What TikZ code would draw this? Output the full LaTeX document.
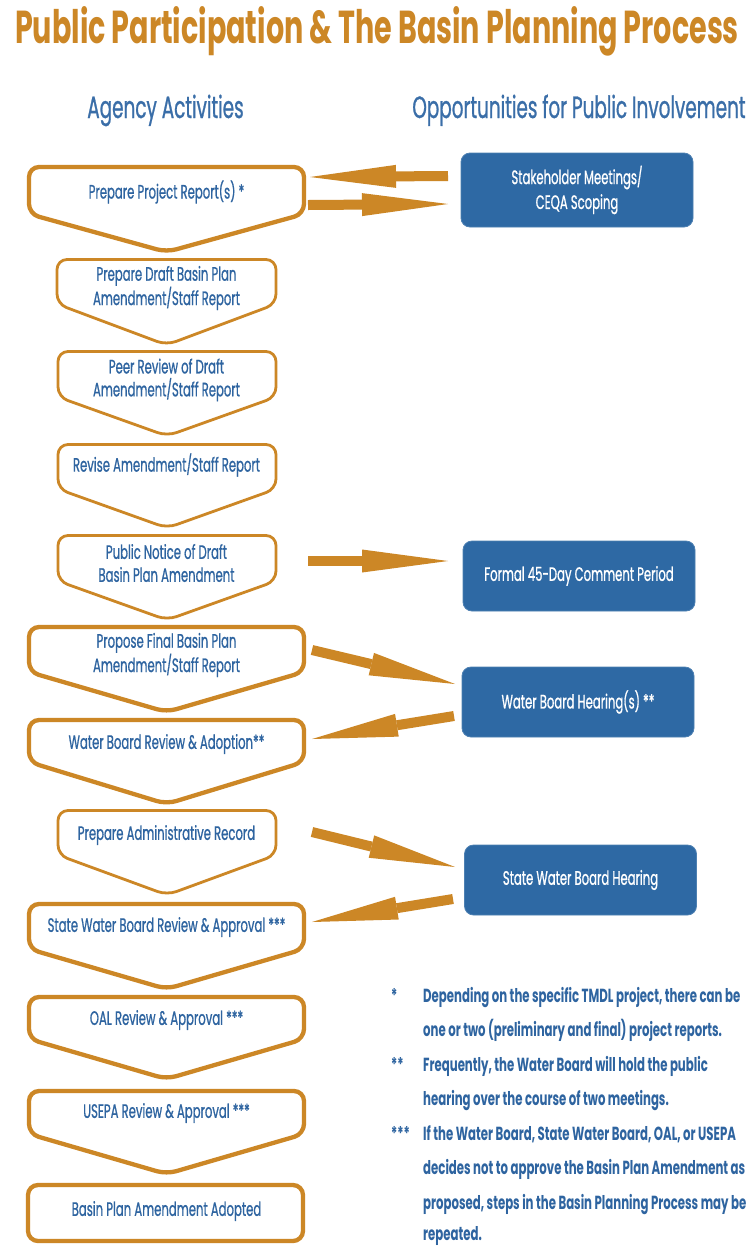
\documentclass[tikz,border=0pt]{standalone}
\usepackage{fontspec}
\setmainfont[FakeStretch=0.62]{Poppins}
\newfontfamily\medfont[FakeStretch=0.6,FakeBold=0.8]{Poppins}
\usetikzlibrary{arrows.meta}
\definecolor{org}{RGB}{204,135,38}
\definecolor{blu}{RGB}{46,100,160}
\definecolor{hblu}{RGB}{58,110,168}
\definecolor{bfill}{RGB}{46,105,164}
\begin{document}
\begin{tikzpicture}[x=1bp,y=-1bp,
  steptext/.style={text=blu, font=\medfont\fontsize{19.5}{23}\selectfont, align=center, inner sep=0pt},
  thinbox/.style={draw=org, line width=2.8bp, rounded corners=10bp},
  thickbox/.style={draw=org, line width=4.3bp, rounded corners=10bp},
  pubbox/.style={fill=bfill, draw=bfill!85!white, line width=0.8bp, rounded corners=9bp, text=white,
    font=\medfont\fontsize{19.5}{25}\selectfont, align=center, minimum width=232bp, minimum height=70bp, inner sep=0pt},
  bigarrow/.style={draw=org, line width=10bp, -{Triangle[length=86bp,width=23bp,line width=0pt]}},
  fntext/.style={text=blu, font=\bfseries\fontsize{19}{20}\selectfont, anchor=base west, inner sep=0pt},
  heading/.style={text=hblu, font=\medfont\fontsize{30.8}{32}\selectfont, inner sep=0pt}
]
\useasboundingbox (0,0) rectangle (754,1246);
\fill[white] (0,0) rectangle (754,1246);

% title and headings
\node[text=org, font=\bfseries\fontsize{46.3}{48}\selectfont, inner sep=0pt, anchor=base] (title) at (377,43) {Public Participation \& The Basin Planning Process};
\node[heading, anchor=base] (hleft) at (165.5,118) {Agency Activities};
\node[heading, anchor=base] (hright) at (579,118) {Opportunities for Public Involvement};

% left column outlines
\draw[thickbox] (29,214) -- (29,167) -- (304,167) -- (304,214) -- (166.5,252) -- cycle;
\draw[thinbox] (57,304) -- (57,259.5) -- (276,259.5) -- (276,304) -- (166.5,345) -- cycle;
\draw[thinbox] (58,397) -- (58,351.5) -- (276,351.5) -- (276,397) -- (167,436) -- cycle;
\draw[thinbox] (58,489) -- (58,444.5) -- (276,444.5) -- (276,489) -- (167,528) -- cycle;
\draw[thinbox] (58,581) -- (58,535.5) -- (276,535.5) -- (276,581) -- (167,620) -- cycle;
\draw[thickbox] (29,672) -- (29,627) -- (304,627) -- (304,672) -- (166.5,712) -- cycle;
\draw[thickbox] (29,762) -- (29,720) -- (304,720) -- (304,762) -- (166.5,804) -- cycle;
\draw[thinbox] (58,855) -- (58,810.5) -- (276,810.5) -- (276,855) -- (167,895) -- cycle;
\draw[thickbox] (29,949) -- (29,904) -- (304,904) -- (304,949) -- (166.5,989) -- cycle;
\draw[thickbox] (29,1039) -- (29,997) -- (304,997) -- (304,1039) -- (166.5,1079) -- cycle;
\draw[thickbox] (29,1134) -- (29,1091) -- (304,1091) -- (304,1134) -- (166.5,1174) -- cycle;
\draw[thickbox] (28,1185) rectangle (303,1241);

% left column texts
\node[steptext] (s1) at (166.5,192) {Prepare Project Report(s) *};
\node[steptext] (s2) at (166.5,288) {Prepare Draft Basin Plan\\Amendment/Staff Report};
\node[steptext] (s3) at (166.5,380) {Peer Review of Draft\\Amendment/Staff Report};
\node[steptext] (s4) at (166.5,465) {Revise Amendment/Staff Report};
\node[steptext] (s5) at (166.5,563) {Public Notice of Draft\\Basin Plan Amendment};
\node[steptext] (s6) at (166.5,655) {Propose Final Basin Plan\\Amendment/Staff Report};
\node[steptext] (s7) at (166.5,744) {Water Board Review \& Adoption**};
\node[steptext] (s8) at (166.5,835) {Prepare Administrative Record};
\node[steptext] (s9) at (166.5,927) {State Water Board Review \& Approval ***};
\node[steptext] (s10) at (166.5,1020) {OAL Review \& Approval ***};
\node[steptext] (s11) at (166.5,1113) {USEPA Review \& Approval ***};
\node[steptext] (s12) at (166.5,1211) {Basin Plan Amendment Adopted};

% right column boxes
\node[pubbox, minimum height=74bp] (b1) at (577,190) {Stakeholder Meetings/\\CEQA Scoping};
\node[pubbox] (b2) at (579,576) {Formal 45-Day Comment Period};
\node[pubbox] (b3) at (578,702) {Water Board Hearing(s) **};
\node[pubbox] (b4) at (580.5,880) {State Water Board Hearing};

% arrow end points on the left shapes
\coordinate (e1in) at (310,177);
\coordinate (e1out) at (308,205);
\coordinate (e5out) at (308,561);
\coordinate (e6out) at (312,650);
\coordinate (e7in) at (312,739);
\coordinate (e8out) at (312,832);
\coordinate (e9in) at (312,922);
\coordinate (b1in) at (448,204);
\coordinate (b1out) at (448,176);
\coordinate (b2in) at (448,561);
\coordinate (b3in) at (455,684);
\coordinate (b3out) at (454,716);
\coordinate (b4in) at (455,867);
\coordinate (b4out) at (453,899);

\draw[bigarrow] (b1out) -- (e1in);
\draw[bigarrow] (e1out) -- (b1in);
\draw[bigarrow] (e5out) -- (b2in);
\draw[bigarrow] (e6out) -- (b3in);
\draw[bigarrow] (b3out) -- (e7in);
\draw[bigarrow] (e8out) -- (b4in);
\draw[bigarrow] (b4out) -- (e9in);

% footnotes
\node[fntext] (m1) at (391,1002) {*};
\node[fntext] (f1a) at (423,1002) {Depending on the specific TMDL project, there can be};
\node[fntext] (f1b) at (423,1036.5) {one or two (preliminary and final) project reports.};
\node[fntext] (m2) at (391,1071) {**};
\node[fntext] (f2a) at (423,1071) {Frequently, the Water Board will hold the public};
\node[fntext] (f2b) at (423,1105.5) {hearing over the course of two meetings.};
\node[fntext] (m3) at (391,1140) {***};
\node[fntext] (f3a) at (423,1140) {If the Water Board, State Water Board, OAL, or USEPA};
\node[fntext] (f3b) at (423,1174.5) {decides not to approve the Basin Plan Amendment as};
\node[fntext] (f3c) at (423,1209) {proposed, steps in the Basin Planning Process may be};
\node[fntext] (f3d) at (423,1240.5) {repeated.};
\end{tikzpicture}
\end{document}
